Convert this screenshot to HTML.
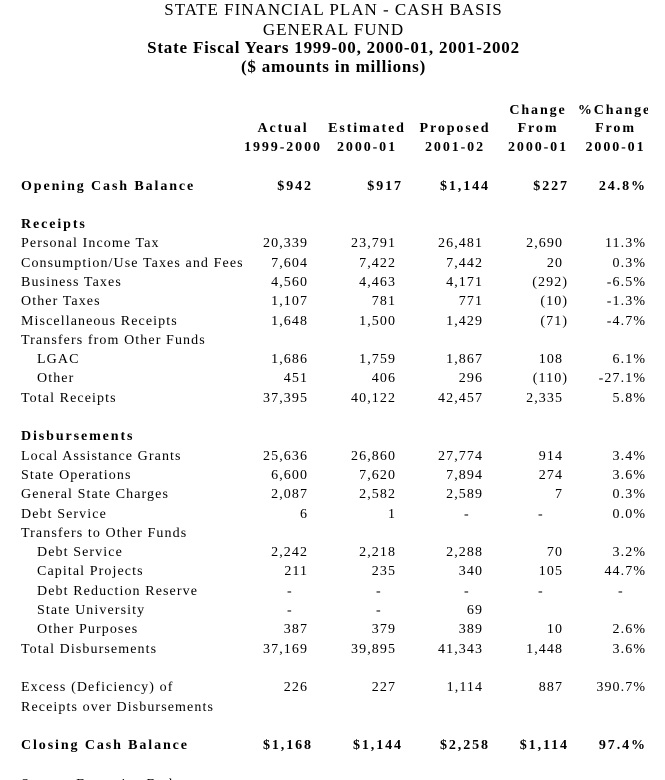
<!DOCTYPE html>
<html>
<head>
<meta charset="utf-8">
<style>
html,body{margin:0;padding:0;background:#fff;overflow:hidden;width:665px;height:780px;}
#wrap{position:relative;width:665px;height:780px;overflow:hidden;font-family:"Liberation Serif",serif;color:#000;background:#fff;}
.t{position:absolute;left:0;width:665px;text-align:center;font-size:17px;line-height:17px;height:17px;letter-spacing:1px;white-space:nowrap;padding-left:2px;box-sizing:border-box;}
.tb{font-weight:bold;letter-spacing:0.8px;}
.r{position:absolute;left:0;width:665px;height:14px;line-height:14px;font-size:14px;letter-spacing:1.1px;white-space:nowrap;}
.r span{position:absolute;top:0;}
.b{font-weight:bold;letter-spacing:1.9px;}
.l{left:21px;}
.li{left:37px;}
.c1{right:356.9px;}
.c2{right:268.9px;}
.c3{right:181.9px;}
.c4{right:101.9px;}
.c4n{right:96.9px;}
.c5{right:18.9px;}
.b .c1{right:352.1px;}
.b .c2{right:262.1px;}
.b .c3{right:175.1px;}
.b .c4{right:96.1px;}
.b .c5{right:18.1px;}
.d1{left:287px;}
.d2{left:376px;}
.d3{left:464px;}
.d4{left:538px;}
.d5{left:618px;}
.h{width:120px;text-align:center;}
.clip{position:absolute;top:0;left:560px;width:88px;height:18px;overflow:hidden;}
.clip i{display:block;font-style:normal;width:109px;text-align:center;}
</style>
</head>
<body>
<div id="wrap">

<div class="t" style="top:0.8px;">STATE FINANCIAL PLAN - CASH BASIS</div>
<div class="t" style="top:20.8px;">GENERAL FUND</div>
<div class="t tb" style="top:38.8px;">State Fiscal Years 1999-00, 2000-01, 2001-2002</div>
<div class="t tb" style="top:57.8px;">($ amounts in millions)</div>

<div class="r b" style="top:103.8px;">
  <span class="h" style="left:478px;">Change</span>
  <div class="clip"><i>%Change</i></div>
</div>
<div class="r b" style="top:122.3px;">
  <span class="h" style="left:223px;">Actual</span>
  <span class="h" style="left:307px;">Estimated</span>
  <span class="h" style="left:395px;">Proposed</span>
  <span class="h" style="left:478px;">From</span>
  <span class="h" style="left:555.5px;">From</span>
</div>
<div class="r b" style="top:141.3px;">
  <span class="h" style="left:223px;">1999-2000</span>
  <span class="h" style="left:307px;">2000-01</span>
  <span class="h" style="left:395px;">2001-02</span>
  <span class="h" style="left:478px;">2000-01</span>
  <span class="h" style="left:555.5px;">2000-01</span>
</div>

<div class="r b" style="top:180.3px;">
  <span class="l">Opening Cash Balance</span>
  <span class="c1">$942</span><span class="c2">$917</span><span class="c3">$1,144</span><span class="c4">$227</span><span class="c5">24.8%</span>
</div>

<div class="r b" style="top:218px;"><span class="l">Receipts</span></div>

<div class="r" style="top:237.3px;">
  <span class="l">Personal Income Tax</span>
  <span class="c1">20,339</span><span class="c2">23,791</span><span class="c3">26,481</span><span class="c4">2,690</span><span class="c5">11.3%</span>
</div>
<div class="r" style="top:256.6px;">
  <span class="l" style="width:223px;height:18px;overflow:hidden;">Consumption/Use Taxes and Fees</span>
  <span class="c1">7,604</span><span class="c2">7,422</span><span class="c3">7,442</span><span class="c4">20</span><span class="c5">0.3%</span>
</div>
<div class="r" style="top:275.9px;">
  <span class="l">Business Taxes</span>
  <span class="c1">4,560</span><span class="c2">4,463</span><span class="c3">4,171</span><span class="c4n">(292)</span><span class="c5">-6.5%</span>
</div>
<div class="r" style="top:295.2px;">
  <span class="l">Other Taxes</span>
  <span class="c1">1,107</span><span class="c2">781</span><span class="c3">771</span><span class="c4n">(10)</span><span class="c5">-1.3%</span>
</div>
<div class="r" style="top:314.5px;">
  <span class="l">Miscellaneous Receipts</span>
  <span class="c1">1,648</span><span class="c2">1,500</span><span class="c3">1,429</span><span class="c4n">(71)</span><span class="c5">-4.7%</span>
</div>
<div class="r" style="top:333.8px;">
  <span class="l">Transfers from Other Funds</span>
</div>
<div class="r" style="top:353.1px;">
  <span class="li">LGAC</span>
  <span class="c1">1,686</span><span class="c2">1,759</span><span class="c3">1,867</span><span class="c4">108</span><span class="c5">6.1%</span>
</div>
<div class="r" style="top:372.4px;">
  <span class="li">Other</span>
  <span class="c1">451</span><span class="c2">406</span><span class="c3">296</span><span class="c4n">(110)</span><span class="c5">-27.1%</span>
</div>
<div class="r" style="top:391.7px;">
  <span class="l">Total Receipts</span>
  <span class="c1">37,395</span><span class="c2">40,122</span><span class="c3">42,457</span><span class="c4">2,335</span><span class="c5">5.8%</span>
</div>

<div class="r b" style="top:430.3px;"><span class="l">Disbursements</span></div>

<div class="r" style="top:449.6px;">
  <span class="l">Local Assistance Grants</span>
  <span class="c1">25,636</span><span class="c2">26,860</span><span class="c3">27,774</span><span class="c4">914</span><span class="c5">3.4%</span>
</div>
<div class="r" style="top:468.9px;">
  <span class="l">State Operations</span>
  <span class="c1">6,600</span><span class="c2">7,620</span><span class="c3">7,894</span><span class="c4">274</span><span class="c5">3.6%</span>
</div>
<div class="r" style="top:488.2px;">
  <span class="l">General State Charges</span>
  <span class="c1">2,087</span><span class="c2">2,582</span><span class="c3">2,589</span><span class="c4">7</span><span class="c5">0.3%</span>
</div>
<div class="r" style="top:507.5px;">
  <span class="l">Debt Service</span>
  <span class="c1">6</span><span class="c2">1</span><span class="d3">-</span><span class="d4">-</span><span class="c5">0.0%</span>
</div>
<div class="r" style="top:526.8px;">
  <span class="l">Transfers to Other Funds</span>
</div>
<div class="r" style="top:546.1px;">
  <span class="li">Debt Service</span>
  <span class="c1">2,242</span><span class="c2">2,218</span><span class="c3">2,288</span><span class="c4">70</span><span class="c5">3.2%</span>
</div>
<div class="r" style="top:565.4px;">
  <span class="li">Capital Projects</span>
  <span class="c1">211</span><span class="c2">235</span><span class="c3">340</span><span class="c4">105</span><span class="c5">44.7%</span>
</div>
<div class="r" style="top:584.7px;">
  <span class="li">Debt Reduction Reserve</span>
  <span class="d1">-</span><span class="d2">-</span><span class="d3">-</span><span class="d4">-</span><span class="d5">-</span>
</div>
<div class="r" style="top:604px;">
  <span class="li">State University</span>
  <span class="d1">-</span><span class="d2">-</span><span class="c3">69</span>
</div>
<div class="r" style="top:623.3px;">
  <span class="li">Other Purposes</span>
  <span class="c1">387</span><span class="c2">379</span><span class="c3">389</span><span class="c4">10</span><span class="c5">2.6%</span>
</div>
<div class="r" style="top:642.6px;">
  <span class="l">Total Disbursements</span>
  <span class="c1">37,169</span><span class="c2">39,895</span><span class="c3">41,343</span><span class="c4">1,448</span><span class="c5">3.6%</span>
</div>

<div class="r" style="top:681.2px;">
  <span class="l">Excess (Deficiency) of</span>
  <span class="c1">226</span><span class="c2">227</span><span class="c3">1,114</span><span class="c4">887</span><span class="c5">390.7%</span>
</div>
<div class="r" style="top:700.5px;">
  <span class="l">Receipts over Disbursements</span>
</div>

<div class="r b" style="top:739.1px;">
  <span class="l">Closing Cash Balance</span>
  <span class="c1">$1,168</span><span class="c2">$1,144</span><span class="c3">$2,258</span><span class="c4">$1,114</span><span class="c5">97.4%</span>
</div>

<div class="r" style="top:778px;">
  <span class="l">Source: Executive Budget</span>
</div>

</div>
</body>
</html>
